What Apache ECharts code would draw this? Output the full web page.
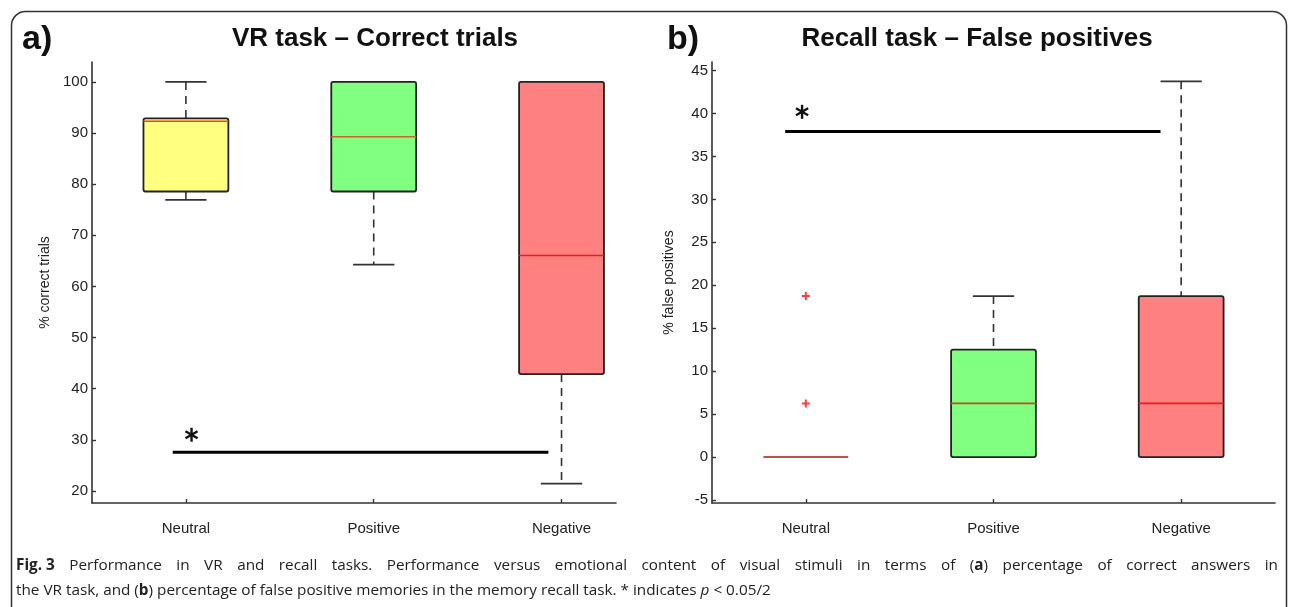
<!DOCTYPE html>
<html>
<head>
<meta charset="utf-8">
<script src="https://cdn.jsdelivr.net/npm/echarts@6/dist/echarts.min.js"></script>
<style>
html,body{margin:0;padding:0;background:#fff;}
#chart{width:1292px;height:607px;}
</style>
</head>
<body>
<div id="chart"></div>
<script>
// ---------- data ----------
const categories = ['Neutral', 'Positive', 'Negative'];
// each box: [lower whisker, Q1, median, Q3, upper whisker]
const vrNeutral  = [76.92, 78.57, 92.31, 92.86, 100];
const vrPositive = [64.29, 78.57, 89.29, 100, 100];
const vrNegative = [21.43, 42.86, 66.07, 100, 100];
const fpNeutral  = [0, 0, 0, 0, 0];
const fpPositive = [0, 0, 6.25, 12.5, 18.75];
const fpNegative = [0, 0, 6.25, 18.75, 43.75];
const fpOutliersX = [1, 1];
const fpOutliersY = [18.75, 6.25];
const yTicksA = [20, 30, 40, 50, 60, 70, 80, 90, 100];
const yTicksB = [-5, 0, 5, 10, 15, 20, 25, 30, 35, 40, 45];
const xTicks = [1, 2, 3];
// significance bars: [x from, x to, y]
const sigA = [0.93, 2.93, 27.6];
const sigB = [0.89, 2.89, 37.9];
// asterisk positions: [x, y]
const starA = [1.03, 31.0];
const starB = [0.98, 40.2];
const titleA = 'VR task – Correct trials';
const titleB = 'Recall task – False positives';
const yNameA = '% correct trials';
const yNameB = '% false positives';
// caption words; pieces separated by '~', a piece ending in ^b is bold, ^i italic
const captionLine1 = 'Fig.\u00a03^b Performance in VR and recall tasks. Performance versus emotional content of visual stimuli in terms of (~a^b~) percentage of correct answers in';
const captionLine2 = 'the VR task, and (~b^b~) percentage of false positive memories in the memory recall task. * indicates p^i < 0.05/2';

// ---------- styles ----------
const FONT = 'Liberation Sans, Arial, sans-serif';
const CAP_FONT = 'Open Sans';
const CAP_SIZE = 15.3;
const boxFill = ['#ffff80', '#80ff80', '#ff8080'];
const medianColA = ['#f0401c', '#c8642a', '#f01818'];
const medianColB = ['#c05050', '#c84a1c', '#f01818'];
const BOX_HALF = 0.226;
const CAP_HALF = 0.11;

function boxRows(boxes) {
  return boxes.map((b, i) => [xTicks[i]].concat(b));
}

function makeBoxRenderer(medCols) {
  return function (params, api) {
    const i = params.dataIndex;
    const x = api.value(0), lo = api.value(1), q1 = api.value(2),
          med = api.value(3), q3 = api.value(4), hi = api.value(5);
    const tl = api.coord([x - BOX_HALF, q3]);
    const br = api.coord([x + BOX_HALF, q1]);
    const cTop = api.coord([x, hi]);
    const cQ3 = api.coord([x, q3]);
    const cQ1 = api.coord([x, q1]);
    const cLo = api.coord([x, lo]);
    const capL = api.coord([x - CAP_HALF, hi])[0];
    const capR = api.coord([x + CAP_HALF, hi])[0];
    const mL = api.coord([x - BOX_HALF, med]);
    const mR = api.coord([x + BOX_HALF, med]);
    const children = [];
    const dash = {stroke: '#333', lineWidth: 1.6, lineDash: [8, 6]};
    const solid = {stroke: '#333', lineWidth: 1.8};
    if (hi > q3) {
      children.push({type: 'line', shape: {x1: cTop[0], y1: cTop[1], x2: cQ3[0], y2: cQ3[1]}, style: dash});
      children.push({type: 'line', shape: {x1: capL, y1: cTop[1], x2: capR, y2: cTop[1]}, style: solid});
    }
    if (lo < q1) {
      children.push({type: 'line', shape: {x1: cQ1[0], y1: cQ1[1], x2: cLo[0], y2: cLo[1]}, style: dash});
      children.push({type: 'line', shape: {x1: capL, y1: cLo[1], x2: capR, y2: cLo[1]}, style: solid});
    }
    const isFlat = (q3 - q1) === 0;
    if (!isFlat) {
      children.push({type: 'rect', shape: {x: tl[0], y: tl[1], width: br[0] - tl[0], height: br[1] - tl[1], r: 2},
        style: {fill: boxFill[i], stroke: '#222', lineWidth: 1.8}});
    }
    children.push({type: 'line', shape: {x1: mL[0], y1: mL[1], x2: mR[0], y2: mR[1]},
      style: {stroke: medCols[i], lineWidth: isFlat ? 2 : 1.6}});
    return {type: 'group', children: children};
  };
}

function renderSig(sig, star) {
  return function (params, api) {
    const a = api.coord([sig[0], sig[2]]);
    const b = api.coord([sig[1], sig[2]]);
    const s = api.coord(star);
    const R = 7;
    const arms = [];
    for (let k = 0; k < 3; k++) {
      const ang = Math.PI / 2 + k * Math.PI / 3;
      arms.push({type: 'line', shape: {x1: s[0] - R * Math.cos(ang), y1: s[1] - R * Math.sin(ang),
        x2: s[0] + R * Math.cos(ang), y2: s[1] + R * Math.sin(ang)}, style: {stroke: '#111', lineWidth: 2.4}});
    }
    return {type: 'group', children: [
      {type: 'line', shape: {x1: a[0], y1: a[1], x2: b[0], y2: b[1]}, style: {stroke: '#000', lineWidth: 3}}
    ].concat(arms)};
  };
}

const axisCommon = {
  axisLine: {show: true, onZero: false, lineStyle: {color: '#333', width: 1.6}},
  axisTick: {show: true, inside: true, length: 4, lineStyle: {color: '#333', width: 1.4}},
  splitLine: {show: false}
};

function xAxisDef(gridIndex, max) {
  return Object.assign({}, axisCommon, {
    type: 'value', gridIndex: gridIndex, min: 0.5, max: max,
    axisTick: Object.assign({}, axisCommon.axisTick, {customValues: xTicks}),
    axisLabel: {customValues: xTicks, formatter: v => categories[Math.round(v) - 1] || '',
      fontFamily: FONT, fontSize: 15, color: '#222', margin: 18}
  });
}
function yAxisDef(gridIndex, min, max, ticks, name, gap) {
  return Object.assign({}, axisCommon, {
    type: 'value', gridIndex: gridIndex, min: min, max: max,
    name: name, nameLocation: 'middle', nameGap: gap, nameRotate: 90,
    nameTextStyle: {fontFamily: FONT, fontSize: 14, color: '#222'},
    axisTick: Object.assign({}, axisCommon.axisTick, {customValues: ticks}),
    axisLabel: {customValues: ticks, fontFamily: FONT, fontSize: 15, color: '#222', margin: 4}
  });
}

// ---------- caption layout (justified first line) ----------
const measureCtx = document.createElement('canvas').getContext('2d');
function segFont(kind) {
  return (kind === 'i' ? 'italic ' : '') + (kind === 'b' ? 'bold ' : '') + CAP_SIZE + 'px "' + CAP_FONT + '"';
}
function parseWord(w) {
  return w.split('~').filter(p => p.length).map(p => {
    const m = p.match(/^([\s\S]*)\^([bi])$/);
    return m ? {t: m[1], k: m[2]} : {t: p, k: 'n'};
  });
}
function wordWidth(segs) {
  return segs.reduce((s, g) => { measureCtx.font = segFont(g.k); return s + measureCtx.measureText(g.t).width; }, 0);
}
function wordRich(segs) {
  return segs.map(g => g.k === 'n' ? g.t : '{' + g.k + '|' + g.t + '}').join('');
}
const richStyles = {
  b: {fontWeight: 'bold', fontFamily: CAP_FONT, fontSize: CAP_SIZE, fill: '#222'},
  i: {fontStyle: 'italic', fontFamily: CAP_FONT, fontSize: CAP_SIZE, fill: '#222'}
};
function captionLine(text, x0, x1, y, justify) {
  const words = text.split(' ').map(parseWord);
  const widths = words.map(wordWidth);
  measureCtx.font = segFont('n');
  const space = measureCtx.measureText(' ').width;
  const total = widths.reduce((a, b) => a + b, 0);
  const gap = justify ? (x1 - x0 - total) / (words.length - 1) : space;
  const els = [];
  let x = x0;
  words.forEach((segs, k) => {
    els.push({type: 'text', x: x, y: y, silent: true, style: {
      text: wordRich(segs), font: CAP_SIZE + 'px "' + CAP_FONT + '"', fill: '#222',
      verticalAlign: 'middle', rich: richStyles}});
    x += widths[k] + gap;
  });
  return els;
}

const chart = echarts.init(document.getElementById('chart'), null, {renderer: 'canvas'});
chart.setOption({
  backgroundColor: '#fff',
  animation: false,
  grid: [
    {left: 92, right: 676, top: 62, bottom: 104},
    {left: 712, right: 17, top: 62, bottom: 104}
  ],
  xAxis: [xAxisDef(0, 3.29), xAxisDef(1, 3.5)],
  yAxis: [
    yAxisDef(0, 17.65, 103.9, yTicksA, yNameA, 40),
    yAxisDef(1, -5.35, 46.0, yTicksB, yNameB, 36)
  ],
  series: [
    {type: 'custom', xAxisIndex: 0, yAxisIndex: 0, renderItem: makeBoxRenderer(medianColA),
      data: boxRows([vrNeutral, vrPositive, vrNegative]), encode: {x: 0, y: [1, 2, 3, 4, 5]}},
    {type: 'custom', xAxisIndex: 1, yAxisIndex: 1, renderItem: makeBoxRenderer(medianColB),
      data: boxRows([fpNeutral, fpPositive, fpNegative]), encode: {x: 0, y: [1, 2, 3, 4, 5]}},
    {type: 'scatter', xAxisIndex: 1, yAxisIndex: 1,
      symbol: 'path://M3,0H5V3H8V5H5V8H3V5H0V3H3Z', symbolSize: 8,
      itemStyle: {color: '#ff1010'},
      data: fpOutliersX.map((x, i) => [x, fpOutliersY[i]])},
    {type: 'custom', xAxisIndex: 0, yAxisIndex: 0, renderItem: renderSig(sigA, starA), data: [[sigA[0], sigA[2]]], clip: false},
    {type: 'custom', xAxisIndex: 1, yAxisIndex: 1, renderItem: renderSig(sigB, starB), data: [[sigB[0], sigB[2]]], clip: false}
  ],
  graphic: [
    {type: 'rect', left: 9, top: 9, shape: {width: 1275, height: 620, r: 14},
      style: {fill: 'none', stroke: '#333', lineWidth: 1.5}, silent: true},
    {type: 'text', x: 22, y: 40, style: {text: 'a)', font: 'bold 34px ' + FONT, fill: '#111', verticalAlign: 'middle'}},
    {type: 'text', x: 667, y: 40, style: {text: 'b)', font: 'bold 34px ' + FONT, fill: '#111', verticalAlign: 'middle'}},
    {type: 'text', x: 375, y: 39, style: {text: titleA, font: 'bold 26px ' + FONT, fill: '#111', align: 'center', verticalAlign: 'middle'}},
    {type: 'text', x: 977, y: 39, style: {text: titleB, font: 'bold 26px ' + FONT, fill: '#111', align: 'center', verticalAlign: 'middle'}}
  ].concat(captionLine(captionLine1, 16, 1278, 566, true))
   .concat(captionLine(captionLine2, 16, 1278, 591, false))
});
</script>
</body>
</html>
